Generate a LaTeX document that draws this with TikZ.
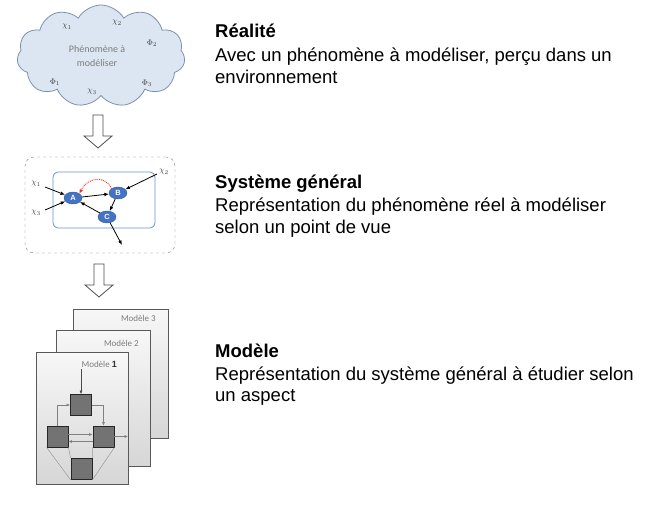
\documentclass[tikz,border=0pt]{standalone}
\usepackage{fontspec}
\setmainfont{Liberation Sans}
\newfontfamily\calibri{Carlito}
\usetikzlibrary{shapes.symbols, shapes.geometric, arrows.meta}
\definecolor{cloudfill}{RGB}{220,230,242}
\definecolor{cloudline}{RGB}{125,145,175}
\definecolor{nodeblue}{RGB}{68,114,196}
\definecolor{frameblue}{RGB}{105,145,205}
\definecolor{labelgray}{RGB}{125,125,125}
\tikzset{
  Arrow1/.style = {
    draw, line width=0.8pt,
    -{Latex[length = 1.6mm, width = 1.3mm]},
  },
  Arrow2/.style = {
    draw, gray, line width=0.5pt,
    -{Latex[length = 1.2mm, width = 1mm]},
  },
  hollow/.style = {draw=black!70, line width=0.8pt, fill=white},
  mathlbl/.style = {inner sep=0pt, font=\fontsize{8}{8}\selectfont, text=black!75},
  sysnode/.style = {ellipse, fill=nodeblue, draw=nodeblue!80!black, text=white,
    font=\bfseries\fontsize{7.5}{7.5}\selectfont, inner sep=0pt,
    minimum width=18pt, minimum height=12pt},
  page/.style = {draw=black!65, line width=0.9pt, top color=gray!6, bottom color=gray!32},
  pagelbl/.style = {anchor=east, inner sep=0pt, text=labelgray,
    font=\calibri\fontsize{9}{9}\selectfont},
  sq/.style = {draw=black!85, line width=0.8pt, fill=black!55,
    minimum size=21pt, inner sep=0pt},
  titletxt/.style = {anchor=base west, inner sep=0pt, font=\bfseries\fontsize{18.5}{21.5}\selectfont},
  bodytxt/.style = {anchor=base west, inner sep=0pt, align=left, font=\fontsize{18.5}{21.5}\selectfont},
}

\begin{document}
\begin{tikzpicture}[x=1pt, y=-1pt]
  \useasboundingbox (0,0) rectangle (667,505);

  % realite
  \node[cloud, cloud puffs=11, cloud puff arc=120, aspect=1.7, draw=cloudline,
    fill=cloudfill, line width=0.8pt, minimum width=168pt, minimum height=102pt,
    inner sep=0pt] (cloud) at (101,56) {};
  \node[align=center, text=labelgray, font=\calibri\fontsize{10}{14}\selectfont]
    (phen) at (97,56) {Phénomène à\\modéliser};
  \node[mathlbl] (chi1) at (67,27) {$\chi_1$};
  \node[mathlbl] (chi2) at (117,23) {$\chi_2$};
  \node[mathlbl] (phi2) at (152,43) {$\Phi_2$};
  \node[mathlbl] (phi1) at (55,82) {$\Phi_1$};
  \node[mathlbl] (chi3) at (92,92) {$\chi_3$};
  \node[mathlbl] (phi3) at (147,83) {$\Phi_3$};

  \draw[hollow] (93,115) -- ++(10,0) -- ++(0,21) -- ++(9,0) -- ++(-14,12)
    -- ++(-14,-12) -- ++(9,0) -- cycle;

  % systeme general
  \node[draw=gray, dashed, rounded corners=9pt, minimum width=150pt,
    minimum height=96pt] (sysframe) at (100,205) {};
  \node[draw=frameblue, line width=0.8pt, rounded corners=5pt, minimum width=102pt,
    minimum height=56pt] (inframe) at (104,200) {};
  \node[sysnode] (A) at (73,198) {A};
  \node[sysnode] (B) at (118,193) {B};
  \node[sysnode] (C) at (107,217) {C};
  \node[mathlbl] (sx1) at (36,184) {$\chi_1$};
  \node[mathlbl] (sx3) at (36,213) {$\chi_3$};
  \node[mathlbl] (sx2) at (164,172) {$\chi_2$};
  \coordinate (in1) at (45,187);
  \coordinate (in3) at (45,210);
  \coordinate (in2) at (157,174);
  \coordinate (out1) at (122,245);
  \draw[Arrow1] (in1) -- (A);
  \draw[Arrow1] (in3) -- (A);
  \draw[Arrow1] (in2) -- (B);
  \draw[Arrow1] (A) -- (B);
  \draw[Arrow1, {Latex[length=1.6mm, width=1.3mm]}-] (A) -- (C);
  \draw[Arrow1, {Latex[length=1.6mm, width=1.3mm]}-] (C) -- (B);
  \draw[Arrow1] (C) -- (out1);
  \draw[red!85, densely dotted, line width=0.9pt, -{Latex[length=1.5mm, width=1.3mm]}]
    (B.north west) to[out=115, in=65, looseness=1.3] (A.north east);

  \draw[hollow] (94,264) -- ++(10,0) -- ++(0,21) -- ++(9,0) -- ++(-14,12)
    -- ++(-14,-12) -- ++(9,0) -- cycle;

  % modeles
  \node[page, minimum width=95pt, minimum height=129pt] (page3) at (120.5,373.5) {};
  \node[page, minimum width=94pt, minimum height=136pt] (page2) at (103,398) {};
  \node[page, minimum width=92pt, minimum height=132pt] (page1) at (82,418) {};
  \node[pagelbl] (lbl3) at (156,318) {Modèle 3};
  \node[pagelbl] (lbl2) at (139,343) {Modèle 2};
  \node[pagelbl] (lbl1) at (117,364) {Modèle {\rmfamily\bfseries\color{black!80}1}};
  \node[sq] (sqT) at (81,405) {};
  \node[sq] (sqL) at (57.5,436.5) {};
  \node[sq] (sqR) at (103.5,436.5) {};
  \node[sq] (sqB) at (81.5,469) {};
  \coordinate (mtop) at (81,369);
  \coordinate (mout) at (128,436.5);
  \draw[Arrow2, black!70] (mtop) -- (sqT.north);
  \draw[Arrow2] (sqL.north) |- (sqT.west);
  \draw[Arrow2] (sqT.east) -| (sqR.north);
  \draw[Arrow2] ([yshift=2pt]sqL.east) -- ([yshift=2pt]sqR.west);
  \draw[Arrow2] ([yshift=-5pt]sqR.west) -- ([yshift=-5pt]sqL.east);
  \draw[Arrow2] (sqR.east) -- (mout);
  \draw[gray!80, line width=0.5pt] (sqL.south west) -- (sqB.south west)
    (sqL.south east) -- (sqB.north west)
    (sqR.south east) -- (sqB.south east)
    (sqR.south west) -- (sqB.north east);

  % textes (base = derniere ligne)
  \node[titletxt] (t1) at (215,38) {Réalité};
  \node[bodytxt] (d1) at (215,83.5) {Avec un phénomène à modéliser, perçu dans un\\environnement};
  \node[titletxt] (t2) at (215,189) {Système général};
  \node[bodytxt] (d2) at (215,233.5) {Représentation du phénomène réel à modéliser\\selon un point de vue};
  \node[titletxt] (t3) at (215,357) {Modèle};
  \node[bodytxt] (d3) at (215,401.5) {Représentation du système général à étudier selon\\un aspect};
\end{tikzpicture}
\end{document}
